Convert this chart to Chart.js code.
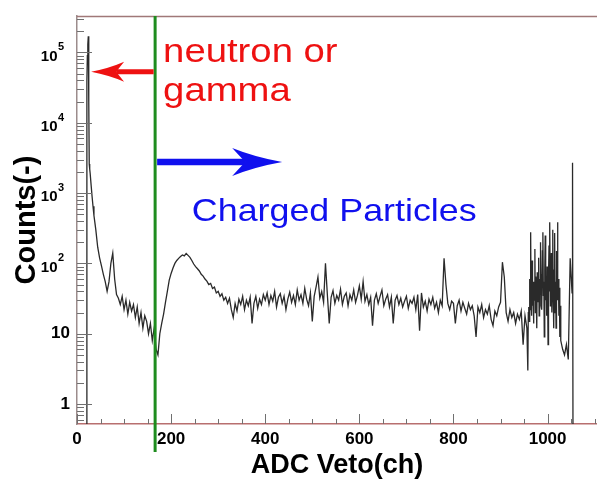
<!DOCTYPE html>
<html>
<head>
<meta charset="utf-8">
<script src="https://cdn.jsdelivr.net/npm/chart.js@4.4.1/dist/chart.umd.min.js"></script>
<style>
  html, body { margin: 0; padding: 0; background: #fff; }
</style>
</head>
<body>
<canvas id="vetoChart" width="597" height="479"></canvas>
<script>
// ADC veto spectrum, counts per channel (0 = empty channel)
const spikeChannels = [0, 20, 21, 22, 23, 24, 25, 26, 27, 28, 30, 32, 34, 36, 38];
const spikeCounts   = [0, 0, 40000, 90000, 130000, 170000, 20000, 2600, 2200, 1900, 1300, 900, 650, 480, 380];

// channels 40..196, every 4th
const countsLow = [300, 170, 120, 92, 70, 55, 40, 55, 100, 140,
  60, 36, 32, 26, 34, 22, 30, 19, 28, 21,
  26, 17, 24, 14, 20, 12, 18, 15, 10, 14,
  8, 12, 6, 5, 10, 14, 19, 28, 40, 58];
// channels 200..396, every 4th
const countsBump = [72, 86, 100, 110, 118, 125, 132, 128, 138, 130,
  122, 110, 98, 90, 84, 78, 70, 66, 60, 56,
  50, 52, 44, 46, 38, 40, 34, 37, 30, 33,
  27, 32, 22, 17, 27, 21, 31, 26, 34, 22,
  30, 25, 33, 14, 27, 34, 23, 31, 26, 36];
// channels 400..796, every 4th
const countsMid = [30, 38, 26, 35, 29, 40, 24, 33, 37, 27,
  34, 22, 31, 39, 28, 35, 26, 42, 30, 36,
  27, 44, 31, 25, 38, 15, 34, 46, 64, 32,
  40, 28, 100, 36, 14, 33, 41, 27, 35, 30,
  43, 26, 34, 38, 25, 36, 30, 42, 28, 35,
  48, 31, 55, 29, 36, 26, 33, 13, 30, 37,
  27, 34, 42, 25, 31, 36, 24, 33, 14, 30,
  35, 26, 32, 24, 29, 34, 23, 30, 27, 33,
  22, 36, 11, 38, 24, 29, 21, 31, 26, 33,
  23, 28, 20, 30, 25, 118, 50, 27, 22, 29];
// channels 800..956, every 4th
const countsHigh = [27, 14, 25, 30, 21, 28, 23, 19, 27, 22,
  25, 18, 9, 24, 20, 26, 17, 22, 19, 25,
  16, 13, 21, 18, 24, 28, 104, 64, 20, 15,
  22, 17, 20, 14, 19, 16, 21, 7, 18, 12];
// channels 958..1028, every channel
const countsNoisy = [3, 20, 24, 15, 60, 22, 278, 30, 18, 110,
  25, 40, 14, 55, 30, 160, 20, 65, 35, 12,
  75, 28, 45, 120, 18, 60, 40, 200, 25, 70,
  22, 150, 278, 35, 55, 9, 80, 250, 30, 60,
  18, 90, 45, 7, 70, 180, 40, 385, 25, 65,
  140, 20, 50, 300, 35, 12, 80, 270, 20, 55,
  12, 150, 40, 385, 30, 60, 18, 45, 9, 25,
  8];
// channels 1032..1052, every 4th
const countsEdge = [6, 5, 7, 4.3, 118, 38];
const tailChannels = [1053, 1054, 1105];
const tailCounts   = [2700, 0, 0];

const xTickValues = [0, 200, 400, 600, 800, 1000];
const yTickValues = [1, 10, 100, 1000, 10000, 100000];
const yTickLabels = ['1', '10', '10^2', '10^3', '10^4', '10^5'];
const xMin = 0, xMax = 1105;
const yMin = 0.52, yMax = 330000;
const vetoCut = 166;

const segments = [
  { start: 40, step: 4, counts: countsLow },
  { start: 200, step: 4, counts: countsBump },
  { start: 400, step: 4, counts: countsMid },
  { start: 800, step: 4, counts: countsHigh },
  { start: 958, step: 1, counts: countsNoisy },
  { start: 1032, step: 4, counts: countsEdge }
];

const points = [];
spikeChannels.forEach((ch, i) => points.push({ x: ch, y: spikeCounts[i] }));
segments.forEach(seg => seg.counts.forEach((c, i) => points.push({ x: seg.start + i * seg.step, y: c })));
tailChannels.forEach((ch, i) => points.push({ x: ch, y: tailCounts[i] }));
// empty channels sit under the floor of the log axis
points.forEach(p => { if (p.y <= 0) p.y = yMin * 0.6; });

const FONT = "'Liberation Sans', Arial, Helvetica, sans-serif";

function drawArrow(ctx, x0, x1, y, shaft, headLen, headHalf, notch, color) {
  const dir = Math.sign(x1 - x0);
  const back = x1 - dir * headLen;
  const notchX = x1 - dir * (headLen - notch);
  const ctrlX = x1 - dir * headLen * 0.55;
  ctx.strokeStyle = color;
  ctx.fillStyle = color;
  ctx.lineWidth = shaft;
  ctx.beginPath();
  ctx.moveTo(x0, y);
  ctx.lineTo(notchX, y);
  ctx.stroke();
  ctx.beginPath();
  ctx.moveTo(x1, y);
  ctx.quadraticCurveTo(ctrlX, y - headHalf * 0.35, back, y - headHalf);
  ctx.lineTo(notchX, y);
  ctx.lineTo(back, y + headHalf);
  ctx.quadraticCurveTo(ctrlX, y + headHalf * 0.35, x1, y);
  ctx.closePath();
  ctx.fill();
}

function stretchText(ctx, text, x, y, font, sx, color) {
  ctx.save();
  ctx.translate(x, y);
  ctx.scale(sx, 1);
  ctx.font = font;
  ctx.fillStyle = color;
  ctx.textAlign = 'left';
  ctx.textBaseline = 'alphabetic';
  ctx.fillText(text, 0, 0);
  ctx.restore();
}

const rootStyle = {
  id: 'rootStyle',
  afterDatasetsDraw(chart) {
    const { ctx, chartArea: a, scales: { x, y } } = chart;
    ctx.save();

    // top of the frame
    ctx.strokeStyle = '#a07878';
    ctx.lineWidth = 1.5;
    ctx.beginPath();
    ctx.moveTo(a.left, a.top + 0.5);
    ctx.lineTo(a.right, a.top + 0.5);
    ctx.stroke();

    // ROOT style ticks, pointing into the frame
    ctx.strokeStyle = '#707070';
    ctx.lineWidth = 1;
    ctx.beginPath();
    for (let ch = 0; ch <= xMax; ch += 50) {
      const px = Math.round(x.getPixelForValue(ch)) + 0.5;
      const len = ch % 200 === 0 ? 10 : 5;
      ctx.moveTo(px, a.bottom);
      ctx.lineTo(px, a.bottom - len);
    }
    for (let e = -1; e <= 5; e++) {
      for (let k = 1; k <= 9; k++) {
        const v = k * Math.pow(10, e);
        if (v < yMin || v > yMax) continue;
        const py = Math.round(y.getPixelForValue(v)) + 0.5;
        const len = k === 1 ? 15 : 7;
        ctx.moveTo(a.left, py);
        ctx.lineTo(a.left + len, py);
      }
    }
    ctx.stroke();

    // y labels with exponents
    ctx.fillStyle = '#000';
    ctx.textBaseline = 'middle';
    yTickValues.forEach((v, i) => {
      const py = y.getPixelForValue(v);
      const parts = yTickLabels[i].split('^');
      if (parts.length === 1) {
        ctx.font = 'bold 17px ' + FONT;
        ctx.textAlign = 'right';
        ctx.fillText(parts[0], 70, py);
      } else {
        ctx.font = 'bold 15px ' + FONT;
        ctx.textAlign = 'right';
        ctx.fillText(parts[0], 57.5, py + 4);
        ctx.font = 'bold 11px ' + FONT;
        ctx.textAlign = 'left';
        ctx.fillText(parts[1], 58, py - 5);
      }
    });

    // veto cut
    const cx = x.getPixelForValue(vetoCut);
    ctx.strokeStyle = '#1e8c1e';
    ctx.lineWidth = 3;
    ctx.beginPath();
    ctx.moveTo(cx, a.top);
    ctx.lineTo(cx, 452);
    ctx.stroke();

    // annotations
    drawArrow(ctx, cx - 1.5, x.getPixelForValue(30), y.getPixelForValue(53000), 5, 33, 10, 8, '#ee1111');
    drawArrow(ctx, cx + 2, x.getPixelForValue(436), y.getPixelForValue(2770), 6.5, 50, 14, 13, '#1010ee');
    stretchText(ctx, 'neutron or', x.getPixelForValue(183), y.getPixelForValue(72000), '33px ' + FONT, 1.16, '#ee1111');
    stretchText(ctx, 'gamma', x.getPixelForValue(183), y.getPixelForValue(20100), '33px ' + FONT, 1.16, '#ee1111');
    stretchText(ctx, 'Charged Particles', x.getPixelForValue(244), y.getPixelForValue(400), '32px ' + FONT, 1.12, '#1010ee');

    ctx.restore();
  }
};

new Chart(document.getElementById('vetoChart'), {
  type: 'line',
  data: {
    datasets: [{
      data: points,
      borderColor: '#2a2a2a',
      borderWidth: 1.3,
      pointRadius: 0,
      tension: 0,
      fill: false
    }]
  },
  options: {
    responsive: false,
    animation: false,
    layout: { padding: { top: 16, left: 0, right: 0, bottom: 0 } },
    plugins: {
      legend: { display: false },
      tooltip: { enabled: false }
    },
    scales: {
      x: {
        type: 'linear',
        min: xMin,
        max: xMax,
        afterFit: s => { s.height = 55; },
        afterBuildTicks: s => { s.ticks = xTickValues.map(v => ({ value: v })); },
        ticks: {
          color: '#000',
          font: { family: FONT, size: 17, weight: 'bold' },
          padding: 5,
          maxRotation: 0,
          autoSkip: false,
          callback: v => String(v)
        },
        grid: { display: false, drawTicks: false },
        border: { display: true, color: '#b86f6f', width: 1.5 },
        title: {
          display: true,
          text: 'ADC Veto(ch)',
          color: '#000',
          font: { family: FONT, size: 27, weight: 'bold', lineHeight: 1 },
          padding: { top: 0, bottom: 0 }
        }
      },
      y: {
        type: 'logarithmic',
        min: yMin,
        max: yMax,
        afterFit: s => { s.width = 77; },
        ticks: { display: false },
        grid: { display: false, drawTicks: false },
        border: { display: true, color: '#9c8c8c', width: 1.5 },
        title: {
          display: true,
          text: 'Counts(-)',
          color: '#000',
          font: { family: FONT, size: 29, weight: 'bold', lineHeight: 1 },
          padding: { top: 12, bottom: 0 }
        }
      }
    }
  },
  plugins: [rootStyle]
});
</script>
</body>
</html>
